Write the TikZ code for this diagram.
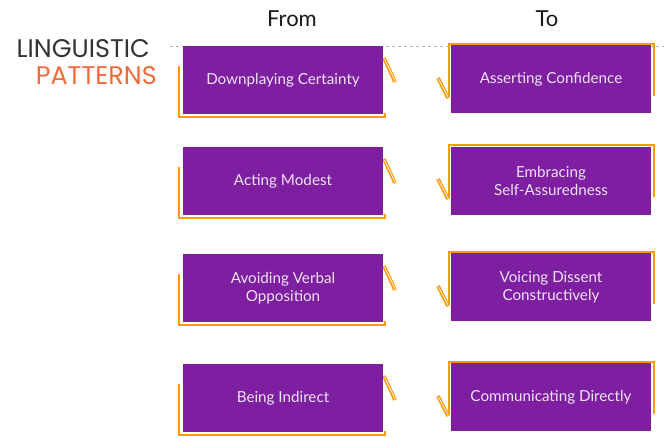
\documentclass[tikz,border=0pt]{standalone}
\usepackage{fontspec}
\setmainfont{Lato}
\newfontfamily\titlefont{Poppins}
\definecolor{boxpurple}{HTML}{7D1FA0}
\definecolor{edgeorange}{HTML}{FF9A0A}
\definecolor{patternred}{HTML}{F06A3C}
\definecolor{boxtext}{HTML}{EFE3F5}
\begin{document}
\begin{tikzpicture}[x=1pt,y=-1pt]
        \tikzstyle{box_style} = [fill=boxpurple,draw=none,minimum width=200pt,minimum height=68pt,
          inner sep=2pt,align=center,text=boxtext,font=\fontsize{15.2}{18}\selectfont]
        \tikzstyle{head_style} = [font=\fontsize{22}{26}\selectfont,text=black!90,inner sep=0pt]
        \tikzstyle{edge_style} = [draw=edgeorange,line width=2.8pt]
        \tikzstyle{tick_style} = [draw=edgeorange,line width=3.6pt]
        \useasboundingbox (0,0) rectangle (664,437);
        % title on the left
        \node[anchor=base east,inner sep=0pt,font=\titlefont\fontsize{25.5}{28}\selectfont,text=black!80] (title1) at (150,57) {LINGUISTIC};
        \node[anchor=base east,inner sep=0pt,font=\titlefont\fontsize{25.5}{28}\selectfont,text=patternred] (title2) at (157,84) {PATTERNS};
        % column heads
        \node[head_style,anchor=base] (from) at (292,26) {From};
        \node[head_style,anchor=base] (to) at (547,26) {To};
        \draw[gray!60,dashed,line width=0.5pt] (170,46) -- (664,46);
        % orange frames behind the boxes
        \foreach \y in {80,181,288,398} {
          \draw[edge_style] (179,\y-14) -- (179,\y+37) -- (385,\y+37) -- (385,\y+33);
          \draw[tick_style] (384,\y-22) -- (395,\y+2);
          \draw[white,line width=0.7pt] (384.5,\y-21) -- (395,\y+1);
          \draw[edge_style] (449,\y+17) -- (449,\y-36) -- (654,\y-36) -- (654,\y+16);
          \draw[tick_style] (438,\y-2) -- (448,\y+18);
          \draw[white,line width=0.7pt] (438.5,\y-1) -- (448,\y+17);
        }
        % from boxes
        \node[box_style] (from1) at (283,80) {Downplaying Certainty};
        \node[box_style] (from2) at (283,181) {Acting Modest};
        \node[box_style] (from3) at (283,288) {Avoiding Verbal\\Opposition};
        \node[box_style] (from4) at (283,398) {Being Indirect};
        % to boxes
        \node[box_style] (to1) at (551,79) {Asserting Confidence};
        \node[box_style] (to2) at (551,181) {Embracing\\Self-Assuredness};
        \node[box_style] (to3) at (551,287) {Voicing Dissent\\Constructively};
        \node[box_style] (to4) at (551,397) {Communicating Directly};
      \end{tikzpicture}
\end{document}
